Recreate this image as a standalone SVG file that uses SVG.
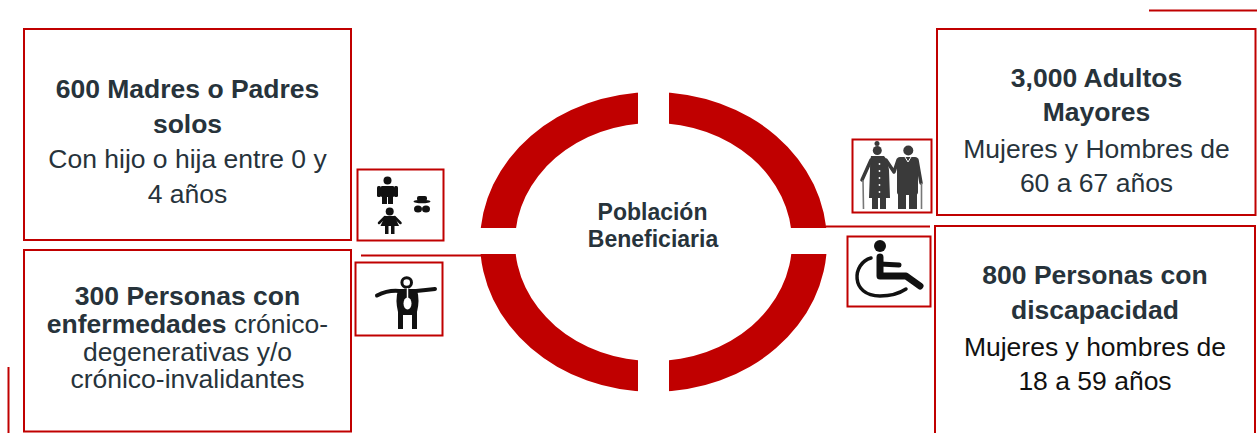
<svg xmlns="http://www.w3.org/2000/svg" width="1257" height="433" viewBox="0 0 1257 433">
<style>
.box{fill:#fff;stroke:#C00000;stroke-width:2}
.t{font-family:"Liberation Sans",Arial,sans-serif;font-size:26.5px;fill:#27333B;text-anchor:middle}
.b{font-weight:bold}
.blk{fill:#111}
.conn{stroke:#C00000;stroke-width:2;fill:none}
.ic{fill:#111}
.ic2{fill:#3a3a3a}
</style>
<defs>
<mask id="gaps">
<rect x="0" y="0" width="1257" height="433" fill="#fff"/>
<rect x="638" y="0" width="31" height="433" fill="#000"/>
<rect x="0" y="228" width="1257" height="26" fill="#000"/>
</mask>
</defs>
<rect width="1257" height="433" fill="#fff"/>

<g id="node-center">
<path d="M480,242 a173.5,150 0 1,0 347,0 a173.5,150 0 1,0 -347,0 Z M515,242 a138.5,119 0 1,0 277,0 a138.5,119 0 1,0 -277,0 Z" fill="#C00000" fill-rule="evenodd" mask="url(#gaps)"/>
<text class="t b" x="652.5" y="219.5" style="font-size:23px">Población</text>
<text class="t b" x="653" y="246.5" style="font-size:23px">Beneficiaria</text>
</g>

<g id="connectors">
<line class="conn" x1="361" y1="255.5" x2="481" y2="255.5"/>
<line class="conn" x1="826" y1="226.5" x2="930" y2="226.5"/>
<line class="conn" x1="1149" y1="10.5" x2="1257" y2="10.5"/>
<line class="conn" x1="8.5" y1="367" x2="8.5" y2="433"/>
</g>

<g id="node-madres">
<rect class="box" x="24" y="29" width="327" height="211"/>
<text class="t b" x="187.5" y="97.5">600 Madres o Padres</text>
<text class="t b" x="187.5" y="132.5">solos</text>
<text class="t" x="187.5" y="167.5">Con hijo o hija entre 0 y</text>
<text class="t" x="187.5" y="202.5">4 años</text>
</g>

<g id="node-enfermedades">
<rect class="box" x="24" y="250" width="327" height="181.5"/>
<text class="t b" x="187.5" y="305">300 Personas con</text>
<text class="t" x="187.5" y="333"><tspan class="b">enfermedades</tspan> crónico-</text>
<text class="t" x="187.5" y="361">degenerativas y/o</text>
<text class="t" x="187.5" y="388">crónico-invalidantes</text>
</g>

<g id="node-adultos">
<rect class="box" x="937" y="29" width="318.5" height="186"/>
<text class="t b" x="1096.5" y="87">3,000 Adultos</text>
<text class="t b" x="1096.5" y="121">Mayores</text>
<text class="t" x="1096.5" y="158">Mujeres y Hombres de</text>
<text class="t" x="1096.5" y="192">60 a 67 años</text>
</g>

<g id="node-discapacidad">
<rect class="box" x="935" y="226" width="320" height="220"/>
<text class="t b" x="1095" y="284">800 Personas con</text>
<text class="t b" x="1095" y="319">discapacidad</text>
<text class="t blk" x="1095" y="356">Mujeres y hombres de</text>
<text class="t blk" x="1095" y="390">18 a 59 años</text>
</g>

<g id="icon-family">
<rect class="box" x="357.5" y="169.5" width="86" height="71"/>
<g class="ic">
<circle cx="387.5" cy="180.5" r="4"/>
<rect x="377" y="186" width="4" height="11" rx="1.5"/>
<rect x="394" y="186" width="4" height="11" rx="1.5"/>
<rect x="381" y="186" width="13" height="11" rx="1"/>
<rect x="382" y="196" width="5" height="8"/>
<rect x="388" y="196" width="5" height="8"/>
<circle cx="389.7" cy="211.5" r="4"/>
<polygon points="385,216 394.5,216 399,226 380.5,226"/>
<path d="M385,217 L379,223 M394.5,217 L400.5,223" stroke="#111" stroke-width="2.5" stroke-linecap="round"/>
<rect x="385" y="225" width="3.5" height="9"/>
<rect x="391" y="225" width="3.5" height="9"/>
<rect x="417" y="196" width="10" height="5" rx="2"/>
<ellipse cx="422" cy="201.5" rx="8.5" ry="1.8"/>
<ellipse cx="418" cy="209" rx="4" ry="3.5"/>
<ellipse cx="426" cy="209" rx="4" ry="3.5"/>
</g>
</g>

<g id="icon-enfermedades">
<rect class="box" x="355.5" y="262.5" width="87" height="73"/>
<circle cx="406.7" cy="282.5" r="4.8" fill="none" stroke="#111" stroke-width="3"/>
<path d="M377,295.5 Q388,290 399,291 L416,291 Q426,290 435,289" fill="none" stroke="#111" stroke-width="4" stroke-linecap="round"/>
<path class="ic" d="M398,290 L417,290 Q420,300 417,312 L417,329 L412,329 L412,315 L403,315 L403,329 L398,329 L398,312 Q395,300 398,290 Z"/>
<ellipse cx="407.5" cy="303.5" rx="4" ry="6" fill="#fff"/>
<line x1="407.5" y1="288" x2="407.5" y2="298" stroke="#fff" stroke-width="1.5"/>
</g>

<g id="icon-adultos">
<rect class="box" x="852.5" y="139.5" width="79" height="73"/>
<g class="ic2">
<circle cx="877" cy="143.5" r="2.5"/>
<circle cx="877.3" cy="150.5" r="4.5"/>
<path d="M871,156 L884,156 Q888,160 889,170 L890,198 L869,198 L870,170 Q870,160 871,156 Z"/>
<rect x="872" y="197" width="6" height="12"/>
<rect x="880" y="197" width="6" height="12"/>
<circle cx="908.3" cy="150.5" r="5"/>
<rect x="897" y="157" width="21" height="38" rx="3"/>
<rect x="898" y="194" width="8" height="15"/>
<rect x="909" y="194" width="8" height="15"/>
</g>
<path d="M871,160 L862,180 M886,160 L894,172 L898,160 M917,160 L921,183" fill="none" stroke="#3a3a3a" stroke-width="3.5" stroke-linecap="round" stroke-linejoin="round"/>
<path d="M863,180 L863.5,209 M921.5,183 L921.5,209" stroke="#777" stroke-width="1.6"/>
<g fill="#fff">
<circle cx="879.5" cy="164" r="0.9"/>
<circle cx="879.5" cy="171" r="0.9"/>
<circle cx="879.5" cy="178" r="0.9"/>
<circle cx="879.5" cy="185" r="0.9"/>
<circle cx="879.5" cy="192" r="0.9"/>
</g>
<path d="M905,157 L908,162 L911,157" fill="none" stroke="#fff" stroke-width="1"/>
</g>

<g id="icon-discapacidad">
<rect class="box" x="847.5" y="236.5" width="83" height="70"/>
<circle class="ic" cx="880" cy="246" r="6"/>
<path d="M880,257 L880,276 L906,276 L920,286" fill="none" stroke="#111" stroke-width="7" stroke-linecap="round" stroke-linejoin="round"/>
<path d="M880,264 L899,265" stroke="#111" stroke-width="5" stroke-linecap="round"/>
<path d="M871,258 C852,263 850,296 880,296 C892,296 900,293 906,289" fill="none" stroke="#111" stroke-width="3.5" stroke-linecap="round"/>
</g>
</svg>
